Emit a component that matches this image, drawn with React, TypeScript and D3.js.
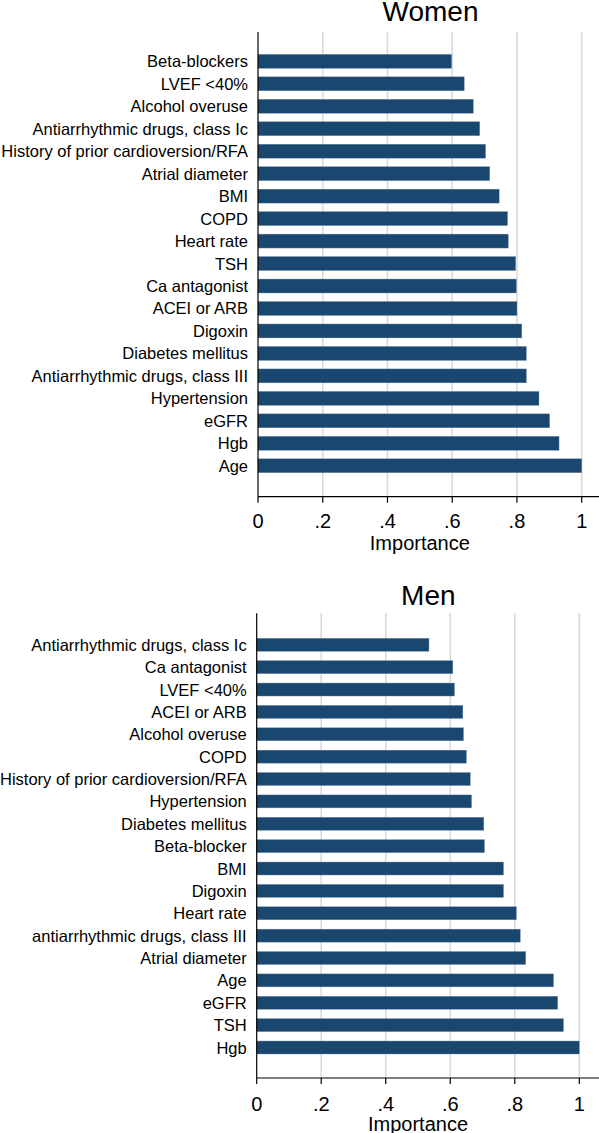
import React from "react";
import * as d3 from "d3";

const womenCategories = [
  "Beta-blockers", "LVEF <40%", "Alcohol overuse", "Antiarrhythmic drugs, class Ic",
  "History of prior cardioversion/RFA", "Atrial diameter", "BMI", "COPD", "Heart rate",
  "TSH", "Ca antagonist", "ACEI or ARB", "Digoxin", "Diabetes mellitus",
  "Antiarrhythmic drugs, class III", "Hypertension", "eGFR", "Hgb", "Age",
];
const womenValues = [
  0.598, 0.637, 0.665, 0.685, 0.703, 0.716, 0.745, 0.771, 0.773, 0.796,
  0.798, 0.800, 0.815, 0.829, 0.829, 0.868, 0.901, 0.930, 1.0,
];

const menCategories = [
  "Antiarrhythmic drugs, class Ic", "Ca antagonist", "LVEF <40%", "ACEI or ARB",
  "Alcohol overuse", "COPD", "History of prior cardioversion/RFA", "Hypertension",
  "Diabetes mellitus", "Beta-blocker", "BMI", "Digoxin", "Heart rate",
  "antiarrhythmic drugs, class III", "Atrial diameter", "Age", "eGFR", "TSH", "Hgb",
];
const menValues = [
  0.534, 0.608, 0.613, 0.639, 0.641, 0.650, 0.662, 0.666, 0.704, 0.706,
  0.765, 0.765, 0.805, 0.817, 0.834, 0.920, 0.933, 0.951, 1.0,
];

const tickValues = [0, 0.2, 0.4, 0.6, 0.8, 1];
const tickLabels = ["0", ".2", ".4", ".6", ".8", "1"];

const FONT = "'Liberation Sans', Arial, Helvetica, sans-serif";
const BAR = "#1a476f";

type PanelProps = {
  title: string;
  cats: string[];
  vals: number[];
  x0: number;
  x1: number;
  top: number;
  axisY: number;
  bandStart: number;
  bandEnd: number;
  padInner: number;
  titleX: number;
  titleY: number;
  tickLabelY: number;
  axisTitleY: number;
};

function Panel(p: PanelProps) {
  const x = d3.scaleLinear().domain([0, 1]).range([p.x0, p.x1]);
  const y = d3
    .scaleBand<string>()
    .domain(p.cats)
    .range([p.bandStart, p.bandEnd])
    .paddingInner(p.padInner)
    .paddingOuter(p.padInner / 2);
  const xEnd = 599;
  return (
    <g>
      <text x={p.titleX} y={p.titleY} fontSize={28} textAnchor="middle" fill="#000" fontFamily={FONT}>
        {p.title}
      </text>
      {tickValues.map((t, i) =>
        i === 0 ? null : (
          <line key={"g" + i} x1={x(t)} x2={x(t)} y1={p.top} y2={p.axisY} stroke="#dadada" strokeWidth={1.6} />
        )
      )}
      {p.cats.map((c, i) => (
        <rect
          key={c}
          x={x(0)}
          y={y(c)!}
          width={x(p.vals[i]) - x(0)}
          height={y.bandwidth()}
          fill={BAR}
          stroke="#6d8aa6"
          strokeWidth={0.4}
        />
      ))}
      {p.cats.map((c) => (
        <text
          key={"l" + c}
          x={x(0) - 10}
          y={y(c)! + y.bandwidth() / 2}
          fontSize={16.5}
          textAnchor="end"
          dominantBaseline="central"
          fill="#000"
          fontFamily={FONT}
        >
          {c}
        </text>
      ))}
      <line x1={x(0)} x2={x(0)} y1={p.top} y2={p.axisY} stroke="#000" strokeWidth={1.2} />
      <line x1={x(0)} x2={xEnd} y1={p.axisY} y2={p.axisY} stroke="#000" strokeWidth={1.2} />
      {tickValues.map((t, i) => (
        <g key={"t" + i}>
          <line x1={x(t)} x2={x(t)} y1={p.axisY} y2={p.axisY + 6} stroke="#000" strokeWidth={1.2} />
          <text x={x(t)} y={p.tickLabelY} fontSize={20} textAnchor="middle" fill="#000" fontFamily={FONT}>
            {tickLabels[i]}
          </text>
        </g>
      ))}
      <text x={(p.x0 + p.x1) / 2} y={p.axisTitleY} fontSize={20} textAnchor="middle" fill="#000" fontFamily={FONT}>
        Importance
      </text>
    </g>
  );
}

export default function App() {
  return (
    <div style={{ position: "absolute", left: 0, top: 0 }}>
      <svg width={599} height={1133} style={{ display: "block", background: "#fff" }}>
        <rect width={599} height={1133} fill="#fff" />
        <Panel
          title="Women"
          cats={womenCategories}
          vals={womenValues}
          x0={258}
          x1={581.7}
          top={32}
          axisY={496.7}
          bandStart={50.1}
          bandEnd={477}
          padInner={0.38}
          titleX={430.5}
          titleY={20.7}
          tickLabelY={528.3}
          axisTitleY={549.5}
        />
        <Panel
          title="Men"
          cats={menCategories}
          vals={menValues}
          x0={256.7}
          x1={579.3}
          top={613.3}
          axisY={1078}
          bandStart={633.6}
          bandEnd={1058.7}
          padInner={0.42}
          titleX={428.3}
          titleY={605}
          tickLabelY={1111}
          axisTitleY={1131}
        />
      </svg>
    </div>
  );
}
